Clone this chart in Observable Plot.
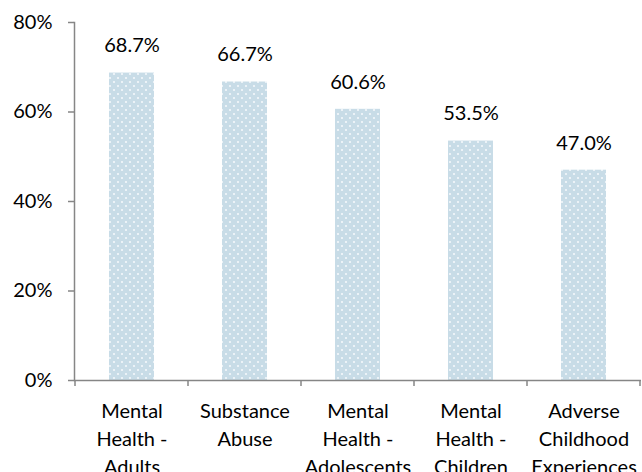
<!DOCTYPE html>
<html><head><meta charset="utf-8">
<script src="https://cdn.jsdelivr.net/npm/d3@7"></script>
<script src="https://cdn.jsdelivr.net/npm/@observablehq/plot@0.6"></script>
<style>
body{margin:0;background:#fff;}
#chart svg{display:block;font-family:Lato,sans-serif;}
</style>
</head><body><div id="chart"></div>
<script>
const categories = ["Mental Health - Adults","Substance Abuse","Mental Health - Adolescents","Mental Health - Children","Adverse Childhood Experiences"];
const labelLines = [["Mental","Health -","Adults"],["Substance","Abuse"],["Mental","Health -","Adolescents"],["Mental","Health -","Children"],["Adverse","Childhood","Experiences"]];
const values = [68.7, 66.7, 60.6, 53.5, 47.0];
const yTicks = [0, 20, 40, 60, 80];

const data = categories.map((c,i)=>({category:c, value:values[i], label:values[i].toFixed(1)+"%"}));
const lineMap = new Map(categories.map((c,i)=>[c, labelLines[i].join("\n")]));

const boundaryTicks = () => (index, scales, values, dims, context) => {
  const x = scales.x, y = scales.y;
  const bw = x.bandwidth ? x.bandwidth() : 0;
  const step = x.step();
  const g = d3.create("svg:g");
  const xs = categories.map(c => x(c) - (step - bw)/2);
  xs.push(x(categories[categories.length-1]) + bw + (step-bw)/2);
  const y0 = y(0);
  for (const xv of xs) {
    g.append("line").attr("x1",xv).attr("x2",xv).attr("y1",y0).attr("y2",y0+6)
      .attr("stroke","#868686").attr("stroke-width",1.5);
  }
  return g.node();
};

const FS = 20;
const chart = Plot.plot({
  width: 642,
  height: 472,
  marginLeft: 74,
  marginRight: 1,
  marginTop: 22,
  marginBottom: 92,
  style: {fontSize: FS + "px", color: "#000", background: "#fff"},
  x: {domain: categories, paddingInner: 0.6, paddingOuter: 0.3, label: null},
  y: {domain: [0, 80], label: null},
  marks: [
    Plot.barY(data, {x:"category", y:"value", fill:"url(#dots)"}),
    Plot.text(data, {x:"category", y:"value", text:"label", dy:-27, fontSize:FS, fill:"#000"}),
    Plot.ruleY([0], {stroke:"#868686", strokeWidth:1.5}),
    Plot.axisY({ticks: yTicks, tickFormat: d => d + "%", tickSize: 6, tickPadding: 16, fontSize: FS, stroke:"#868686", strokeWidth:1.5}),
    Plot.axisX({tickSize: 0, tickPadding: 17, tickFormat: d => lineMap.get(d), lineHeight: 1.42, fontSize: FS, fill:"#000"}),
    Plot.frame({anchor:"left", stroke:"#868686", strokeWidth:1.5}),
    boundaryTicks()
  ]
});

const defs = d3.select(chart).insert("defs", ":first-child");
const pat = defs.append("pattern").attr("id","dots").attr("patternUnits","userSpaceOnUse")
  .attr("width",8).attr("height",8);
pat.append("rect").attr("width",8).attr("height",8).attr("fill","#c8dce7");
pat.append("circle").attr("cx",2).attr("cy",2).attr("r",1.1).attr("fill","#f4f8fb");
pat.append("circle").attr("cx",6).attr("cy",6).attr("r",1.1).attr("fill","#f4f8fb");

document.getElementById("chart").appendChild(chart);
</script>
</body></html>
